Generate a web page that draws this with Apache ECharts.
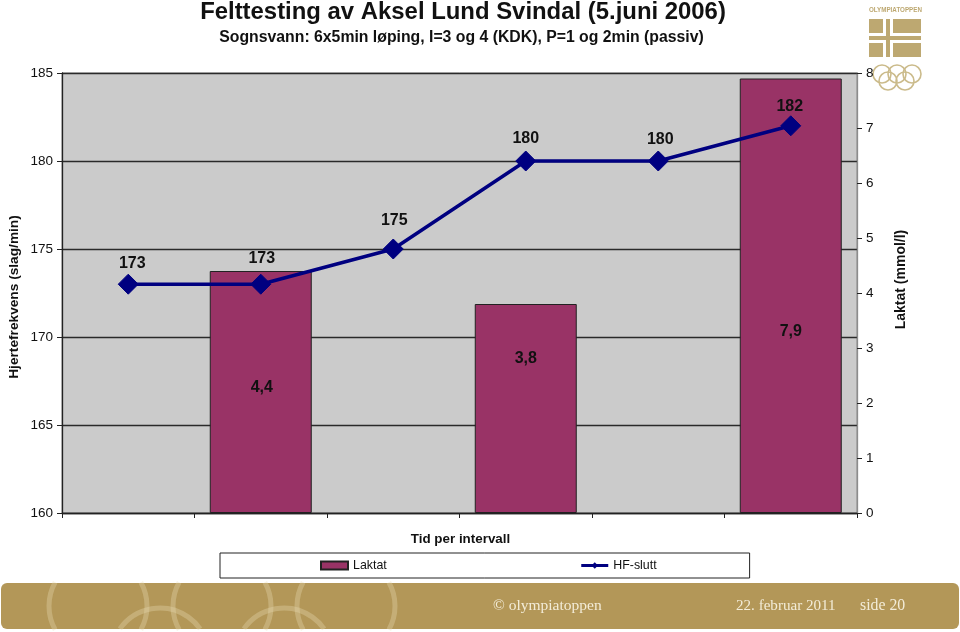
<!DOCTYPE html>
<html><head><meta charset="utf-8">
<style>html,body{margin:0;padding:0;background:#fff}#c{width:960px;height:632px}</style>
<script src="https://cdn.jsdelivr.net/npm/echarts@6/dist/echarts.min.js"></script>
</head><body><div id="c"></div>
<script>
const categories = ['1','2','3','4','5','6'];
const laktat = [null, 4.4, null, 3.8, null, 7.9];
const hfSlutt = [173, 173, 175, 180, 180, 182];
const laktatLabelShift = [null, [1,-4], null, [0,-50], null, [0,36]];
const hfLabelShift = [[4,-21],[1,-26],[1,-28],[0,-22],[2,-21],[-1,-19]];

const sans = '"Liberation Sans", Arial, sans-serif';
const serif = '"Liberation Serif", Georgia, serif';
const gold = '#bda871', ringCol = 'rgba(232,220,180,0.34)';

function rect(x,y,w,h){return {type:'rect',shape:{x,y,width:w,height:h},style:{fill:gold},silent:true};}
function ring(cx,cy,r){return {type:'circle',shape:{cx,cy,r},style:{fill:'none',stroke:'#cbbb8b',lineWidth:1.6},silent:true};}
function arc(cx,cy,r,a,b){return {type:'arc',shape:{cx,cy,r,startAngle:a*Math.PI/180,endAngle:b*Math.PI/180,clockwise:true},
  style:{fill:'none',stroke:ringCol,lineWidth:5},z:1,silent:true};}

const footerRings = [];
[98,222,346].forEach(cx=>{footerRings.push(arc(cx,606,49,-29,29),arc(cx,606,49,151,209));});
[160,284].forEach(cx=>{footerRings.push(arc(cx,657,49,215,325));});

const graphic = [
  {type:'rect',shape:{x:1,y:583,width:958,height:46,r:6},style:{fill:'#b39758'},z:0,silent:true},
  ...footerRings,
  {type:'text',x:493,y:606,style:{text:'© olympiatoppen',font:'15.5px '+serif,fill:'#f3ecd8',textVerticalAlign:'middle'},z:2,silent:true},
  {type:'text',x:736,y:606,style:{text:'22. februar 2011',font:'15.1px '+serif,fill:'#f3ecd8',textVerticalAlign:'middle'},z:2,silent:true},
  {type:'text',x:860,y:606,style:{text:'side 20',font:'15.8px '+serif,fill:'#f3ecd8',textVerticalAlign:'middle'},z:2,silent:true},
  {type:'text',x:869,y:10,scaleX:0.78,style:{text:'OLYMPIATOPPEN',font:'bold 8px '+sans,fill:gold,textVerticalAlign:'middle'},silent:true},
  rect(869,19,14,14),rect(893,19,28,14),rect(869,36,52,4),rect(886,19,4,38),rect(869,43,14,14),rect(893,43,28,14),
  ring(882,74,9),ring(897,74,9),ring(912,74,9),ring(888,81,9),ring(905,81,9)
];

const option = {
  animation:false,
  backgroundColor:'#fff',
  textStyle:{fontFamily:sans},
  title:[
    {text:'Felttesting av Aksel Lund Svindal (5.juni 2006)',left:458,top:-5,textAlign:'center',
     textStyle:{fontFamily:sans,fontSize:23.9,fontWeight:'bold',color:'#111'}},
    {text:'Sognsvann: 6x5min løping, I=3 og 4 (KDK), P=1 og 2min (passiv)',left:456.5,top:25,textAlign:'center',
     textStyle:{fontFamily:sans,fontSize:15.8,fontWeight:'bold',color:'#111'}}
  ],
  legend:{
    left:220, top:553, orient:'horizontal',
    padding:[6.5,93,6.5,100], itemGap:193, itemWidth:27, itemHeight:8,
    borderColor:'#222', borderWidth:1, backgroundColor:'#fff',
    textStyle:{fontFamily:sans,fontSize:12.4,color:'#111'},
    data:[{name:'Laktat',icon:'rect'},{name:'HF-slutt',lineStyle:{width:3}}]
  },
  grid:{left:62,right:103,top:73,bottom:119,outerBoundsMode:'none',show:true,backgroundColor:'#cbcbcb',borderColor:'#8c8c8c',borderWidth:1},
  xAxis:{
    type:'category',data:categories,boundaryGap:true,
    name:'Tid per intervall',nameLocation:'middle',nameGap:20,
    nameTextStyle:{fontFamily:sans,fontSize:13.4,fontWeight:'bold',color:'#111',padding:[0,0,0,2]},
    axisLabel:{show:false},
    axisLine:{lineStyle:{color:'#222',width:1.3}},
    axisTick:{show:true,alignWithLabel:false,length:5,inside:false,lineStyle:{color:'#222'}}
  },
  yAxis:[
    {type:'value',min:160,max:185,interval:5,position:'left',
     name:'Hjertefrekvens (slag/min)',nameLocation:'middle',nameGap:41,nameRotate:90,nameMoveOverlap:false,
     nameTextStyle:{fontFamily:sans,fontSize:13.7,fontWeight:'bold',color:'#111',padding:[0,8,0,0]},
     axisLine:{show:true,lineStyle:{color:'#222',width:1.3}},
     axisTick:{show:true,length:5,lineStyle:{color:'#222'}},
     axisLabel:{fontSize:13.5,color:'#111',margin:9},
     splitLine:{show:true,lineStyle:{color:'#2a2a2a',width:1.3}}},
    {type:'value',min:0,max:8,interval:1,position:'right',
     name:'Laktat (mmol/l)',nameLocation:'middle',nameGap:37,nameRotate:90,
     nameTextStyle:{fontFamily:sans,fontSize:14,fontWeight:'bold',color:'#111',padding:[0,0,0,27]},
     axisLine:{show:true,lineStyle:{color:'#8c8c8c',width:1.3}},
     axisTick:{show:true,length:5,lineStyle:{color:'#222'}},
     axisLabel:{fontSize:13.5,color:'#111',margin:9},
     splitLine:{show:false}}
  ],
  series:[
    {name:'Laktat',type:'bar',yAxisIndex:1,barWidth:102,
     itemStyle:{color:'#993366',borderColor:'#222',borderWidth:1},
     data:laktat.map((v,i)=>({value:v,label:{offset:laktatLabelShift[i]||[0,0]}})),
     label:{show:true,position:'inside',fontFamily:sans,fontSize:16,fontWeight:'bold',color:'#111',
       formatter:p=>p.value==null?'':String(p.value).replace('.',',')}},
    {name:'HF-slutt',type:'line',yAxisIndex:0,
     symbol:'diamond',symbolSize:20,z:5,
     lineStyle:{color:'#000080',width:3.5},
     itemStyle:{color:'#000080',borderColor:'#000080'},
     data:hfSlutt.map((v,i)=>({value:v,label:{offset:hfLabelShift[i]}})),
     label:{show:true,position:'inside',fontFamily:sans,fontSize:16,fontWeight:'bold',color:'#111'}}
  ],
  graphic
};
const chart = echarts.init(document.getElementById('c'),null,{renderer:'canvas'});
chart.setOption(option);
</script></body></html>
